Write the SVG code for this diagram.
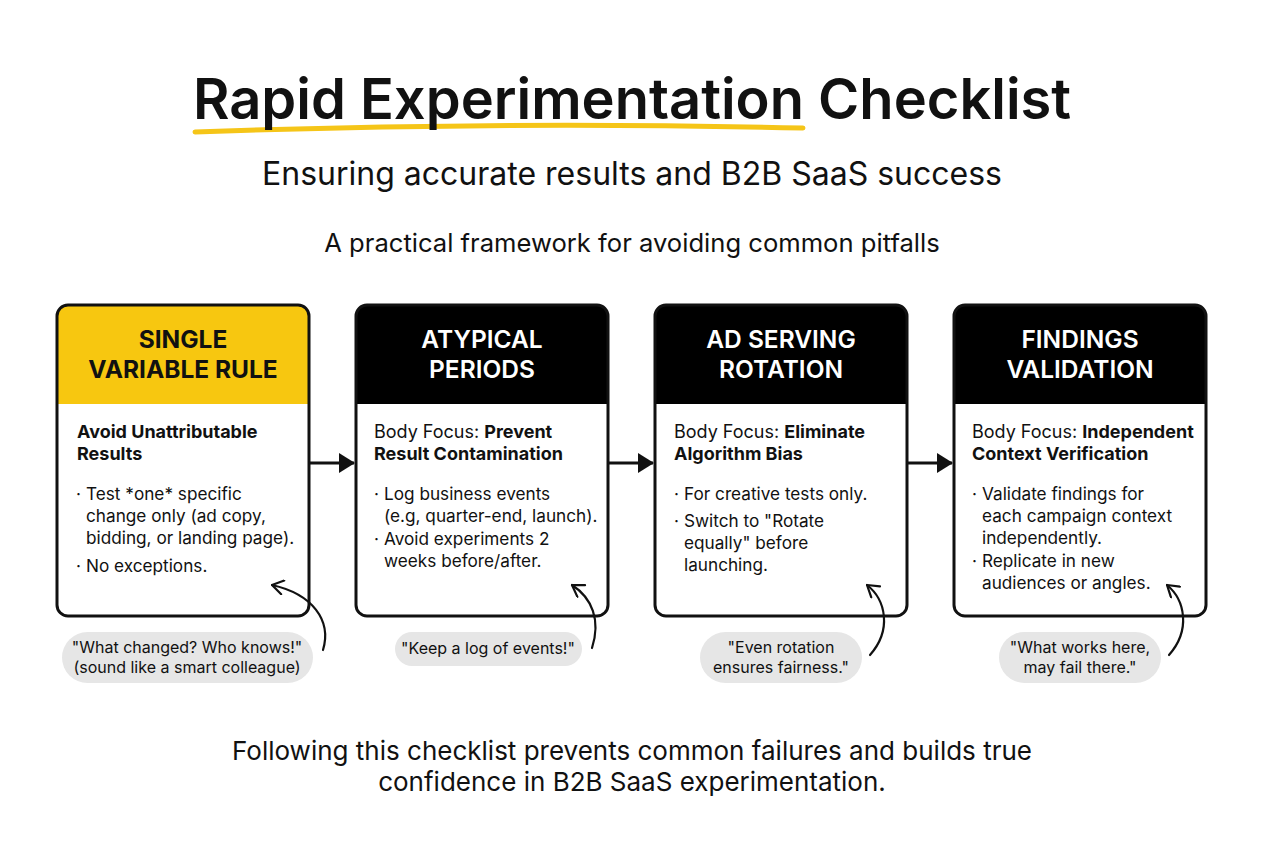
<svg xmlns="http://www.w3.org/2000/svg" width="1264" height="848" viewBox="0 0 1264 848">
<defs>
<style>
text{font-family:Inter,"Noto Sans","Liberation Sans",sans-serif;fill:#111}
.title{font-size:56px;font-weight:600;text-anchor:middle}
.sub{font-size:32px;text-anchor:middle}
.sub2{font-size:25.6px;text-anchor:middle}
.foot{font-size:26px;text-anchor:middle}
.cardbg{fill:#fff}
.cardln{fill:none;stroke:#111;stroke-width:3}
.hd{font-size:24.5px;font-weight:600;text-anchor:middle;fill:#fff}
.hd1{font-size:24.5px;font-weight:700;text-anchor:middle;fill:#111}
.bt{font-size:18px;font-weight:700}
.bd{font-size:17.2px}
.bub{fill:#e6e6e6}
.bubt{font-size:16px;text-anchor:middle}
.conn{fill:none;stroke:#111;stroke-width:3}
.call{fill:none;stroke:#111;stroke-width:2.2;stroke-linecap:round}
</style>
<marker id="tri" viewBox="0 0 16 20" refX="15" refY="10" markerWidth="16" markerHeight="20" markerUnits="userSpaceOnUse" orient="auto">
<path d="M0,0 L16,10 L0,20 Z" fill="#111"/>
</marker>
<marker id="chev" viewBox="0 0 14 16" refX="13" refY="8" markerWidth="14" markerHeight="16" markerUnits="userSpaceOnUse" orient="auto">
<path d="M2,1 L13,8 L2,15" fill="none" stroke="#111" stroke-width="2.2" stroke-linecap="round" stroke-linejoin="round"/>
</marker>
</defs>
<rect width="1264" height="848" fill="#fff"/>

<g id="title">
<path d="M195,132 Q500,121 803,128" fill="none" stroke="#F5C518" stroke-width="5" stroke-linecap="round"/>
<text class="title" x="632" y="119">Rapid Experimentation Checklist</text>
<text class="sub" x="632" y="185">Ensuring accurate results and B2B SaaS success</text>
<text class="sub2" x="632" y="252">A practical framework for avoiding common pitfalls</text>
</g>

<g id="card1">
<rect class="cardbg" x="57" y="305" width="252" height="311" rx="11"/>
<path d="M57,404 V316 A11,11 0 0 1 68,305 H298 A11,11 0 0 1 309,316 V404 Z" fill="#F7C710"/>
<rect class="cardln" x="57" y="305" width="252" height="311" rx="11"/>
<text class="hd1" x="183" y="348">SINGLE</text>
<text class="hd1" x="183" y="378">VARIABLE RULE</text>
<text class="bt" x="77" y="438">Avoid Unattributable</text>
<text class="bt" x="77" y="460">Results</text>
<text class="bd" x="76" y="500">·</text><text class="bd" x="86" y="500">Test *one* specific</text>
<text class="bd" x="86" y="522">change only (ad copy,</text>
<text class="bd" x="86" y="544">bidding, or landing page).</text>
<text class="bd" x="76" y="572">·</text><text class="bd" x="86" y="572">No exceptions.</text>
</g>

<g id="card2">
<rect class="cardbg" x="356" y="305" width="252" height="311" rx="11"/>
<path d="M356,404 V316 A11,11 0 0 1 367,305 H597 A11,11 0 0 1 608,316 V404 Z" fill="#000"/>
<rect class="cardln" x="356" y="305" width="252" height="311" rx="11"/>
<text class="hd" x="482" y="348">ATYPICAL</text>
<text class="hd" x="482" y="378">PERIODS</text>
<text class="bd" x="374" y="438" style="font-size:18px">Body Focus: <tspan font-weight="700">Prevent</tspan></text>
<text class="bt" x="374" y="460">Result Contamination</text>
<text class="bd" x="374" y="500">·</text><text class="bd" x="384" y="500">Log business events</text>
<text class="bd" x="384" y="522">(e.g, quarter-end, launch).</text>
<text class="bd" x="374" y="545">·</text><text class="bd" x="384" y="545">Avoid experiments 2</text>
<text class="bd" x="384" y="567">weeks before/after.</text>
</g>

<g id="card3">
<rect class="cardbg" x="655" y="305" width="252" height="311" rx="11"/>
<path d="M655,404 V316 A11,11 0 0 1 666,305 H896 A11,11 0 0 1 907,316 V404 Z" fill="#000"/>
<rect class="cardln" x="655" y="305" width="252" height="311" rx="11"/>
<text class="hd" x="781" y="348">AD SERVING</text>
<text class="hd" x="781" y="378">ROTATION</text>
<text class="bd" x="674" y="438" style="font-size:18px">Body Focus: <tspan font-weight="700">Eliminate</tspan></text>
<text class="bt" x="674" y="460">Algorithm Bias</text>
<text class="bd" x="674" y="500">·</text><text class="bd" x="684" y="500">For creative tests only.</text>
<text class="bd" x="674" y="527">·</text><text class="bd" x="684" y="527">Switch to "Rotate</text>
<text class="bd" x="684" y="549">equally" before</text>
<text class="bd" x="684" y="571">launching.</text>
</g>

<g id="card4">
<rect class="cardbg" x="954" y="305" width="252" height="311" rx="11"/>
<path d="M954,404 V316 A11,11 0 0 1 965,305 H1195 A11,11 0 0 1 1206,316 V404 Z" fill="#000"/>
<rect class="cardln" x="954" y="305" width="252" height="311" rx="11"/>
<text class="hd" x="1080" y="348">FINDINGS</text>
<text class="hd" x="1080" y="378">VALIDATION</text>
<text class="bd" x="972" y="438" style="font-size:18px">Body Focus: <tspan font-weight="700">Independent</tspan></text>
<text class="bt" x="972" y="460">Context Verification</text>
<text class="bd" x="972" y="500">·</text><text class="bd" x="982" y="500">Validate findings for</text>
<text class="bd" x="982" y="522">each campaign context</text>
<text class="bd" x="982" y="544">independently.</text>
<text class="bd" x="972" y="567">·</text><text class="bd" x="982" y="567">Replicate in new</text>
<text class="bd" x="982" y="589">audiences or angles.</text>
</g>

<g id="note1">
<rect class="bub" x="62" y="632" width="251" height="51" rx="25.5"/>
<text class="bubt" x="187" y="653">"What changed? Who knows!"</text>
<text class="bubt" x="187" y="673">(sound like a smart colleague)</text>
</g>
<g id="note2">
<rect class="bub" x="395" y="632" width="187" height="34" rx="17"/>
<text class="bubt" x="488" y="654">"Keep a log of events!"</text>
</g>
<g id="note3">
<rect class="bub" x="700" y="632" width="162" height="51" rx="25.5"/>
<text class="bubt" x="781" y="653">"Even rotation</text>
<text class="bubt" x="781" y="673">ensures fairness."</text>
</g>
<g id="note4">
<rect class="bub" x="999" y="632" width="162" height="51" rx="25.5"/>
<text class="bubt" x="1080" y="653">"What works here,</text>
<text class="bubt" x="1080" y="673">may fail there."</text>
</g>

<g id="connectors">
<line class="conn" x1="310" y1="463" x2="354" y2="463" marker-end="url(#tri)"/>
<line class="conn" x1="609" y1="463" x2="653" y2="463" marker-end="url(#tri)"/>
<line class="conn" x1="908" y1="463" x2="952" y2="463" marker-end="url(#tri)"/>
<path class="call" d="M323,650 C332,620 312,594 272,585" marker-end="url(#chev)"/>
<path class="call" d="M592,648 C601,620 592,598 572,585" marker-end="url(#chev)"/>
<path class="call" d="M870,655 C892,630 886,600 867,585" marker-end="url(#chev)"/>
<path class="call" d="M1169,655 C1191,630 1185,600 1167,585" marker-end="url(#chev)"/>
</g>

<g id="footer">
<text class="foot" x="632" y="760">Following this checklist prevents common failures and builds true</text>
<text class="foot" x="632" y="791">confidence in B2B SaaS experimentation.</text>
</g>
</svg>
